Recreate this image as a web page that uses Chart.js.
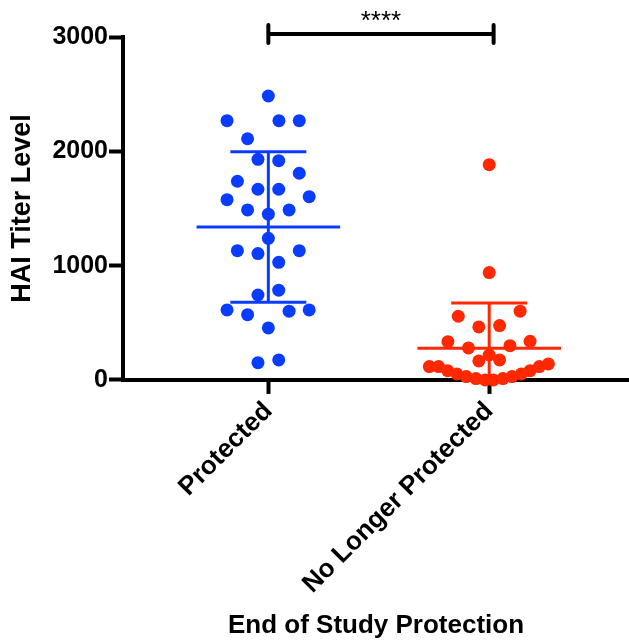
<!DOCTYPE html>
<html>
<head>
<meta charset="utf-8">
<script src="https://cdn.jsdelivr.net/npm/chart.js@4/dist/chart.umd.min.js"></script>
<style>
  html, body { margin: 0; padding: 0; background: #fff; }
  #wrap { width: 629px; height: 641px; position: relative; }
</style>
</head>
<body>
<div id="wrap"><canvas id="chart1"></canvas></div>
<script>
// groups on the x axis
var categories = ["Protected", "No Longer Protected"];

// HAI titer per subject
var protectedValues = [2484, 2268, 2268, 2268, 2110, 1930, 1918, 1808, 1738, 1668, 1668, 1577, 1603, 1487, 1487,
  1450, 1239, 1131, 1105, 1131, 1029, 743, 785, 612, 571, 601, 612, 455, 151, 175];
// horizontal spread of each dot within its column (category units)
var protectedSpread = [0, -0.187, 0.048, 0.140, -0.094, -0.047, 0.047, 0.140, -0.140, -0.047, 0.047, -0.187, 0.185, -0.094, 0.094,
  0, 0, -0.140, -0.047, 0.140, 0.047, -0.047, 0.047, -0.187, -0.094, 0.094, 0.185, 0, -0.047, 0.047];

var notProtectedValues = [1883, 939, 557, 601, 464, 475, 335, 280, 300, 338, 166, 175, 218,
  117, 117, 81, 52, 29, 12, 0, 0, 12, 29, 52, 81, 117, 140];
var notProtectedSpread = [0, 0, -0.140, 0.140, -0.047, 0.047, -0.187, -0.094, 0.094, 0.185, -0.047, 0.047, 0,
  -0.271, -0.229, -0.188, -0.146, -0.104, -0.060, -0.018, 0.019, 0.062, 0.103, 0.145, 0.185, 0.227, 0.268];

// mean and SD lines
var groupMeans = [1338, 276];
var groupSD = [658, 396];

var yTicks = [0, 1000, 2000, 3000];
var sigLabel = "****";

var blue = "#0a3cff";
var red = "#ff2800";
var font = "'Liberation Sans', Arial, sans-serif";

function toPoints(values, spread, pos) {
  return values.map(function (v, i) { return { x: pos + spread[i], y: v }; });
}

// mean +/- SD bars and the significance bracket
var extrasPlugin = {
  id: 'extras',
  afterDatasetsDraw: function (chart) {
    var ctx = chart.ctx, xs = chart.scales.x, ys = chart.scales.y;
    var area = chart.chartArea;
    var colors = [blue, red];
    ctx.save();
    for (var i = 0; i < groupMeans.length; i++) {
      var cx = xs.getPixelForValue(i + 1);
      var half = xs.getPixelForValue(i + 1 + 0.325) - cx;
      var cap = xs.getPixelForValue(i + 1 + 0.172) - cx;
      var ym = ys.getPixelForValue(groupMeans[i]);
      var yt = ys.getPixelForValue(groupMeans[i] + groupSD[i]);
      var yb = Math.min(ys.getPixelForValue(groupMeans[i] - groupSD[i]), area.bottom);
      ctx.strokeStyle = colors[i];
      ctx.lineWidth = 3;
      ctx.beginPath();
      ctx.moveTo(cx - half, ym); ctx.lineTo(cx + half, ym);
      ctx.moveTo(cx, yt); ctx.lineTo(cx, yb);
      ctx.moveTo(cx - cap, yt); ctx.lineTo(cx + cap, yt);
      if (yb < area.bottom) { ctx.moveTo(cx - cap, yb); ctx.lineTo(cx + cap, yb); }
      ctx.stroke();
    }
    // significance bracket
    var x1 = xs.getPixelForValue(1), x2 = xs.getPixelForValue(2.02);
    var yb2 = ys.getPixelForValue(3000) - 3;
    ctx.strokeStyle = "#000";
    ctx.lineWidth = 4;
    ctx.lineCap = "round";
    ctx.beginPath();
    ctx.moveTo(x1, yb2); ctx.lineTo(x2, yb2);
    ctx.moveTo(x1, yb2 - 9); ctx.lineTo(x1, yb2 + 9);
    ctx.moveTo(x2, yb2 - 9); ctx.lineTo(x2, yb2 + 9);
    ctx.stroke();
    ctx.fillStyle = "#000";
    ctx.font = "26px " + font;
    ctx.textAlign = "center";
    ctx.textBaseline = "middle";
    ctx.fillText(sigLabel, (x1 + x2) / 2, yb2 - 12);
    ctx.restore();
  }
};

var chartDots = document.getElementById("chart1").getContext('2d');
var myChart = new Chart(chartDots, {
  type: 'scatter',
  data: {
    datasets: [{
      label: categories[0],
      data: toPoints(protectedValues, protectedSpread, 1),
      backgroundColor: blue,
      borderWidth: 0,
      pointRadius: 6.5,
      clip: false
    }, {
      label: categories[1],
      data: toPoints(notProtectedValues, notProtectedSpread, 2),
      backgroundColor: red,
      borderWidth: 0,
      pointRadius: 6.5,
      clip: false
    }]
  },
  options: {
    responsive: true,
    maintainAspectRatio: false,
    animation: false,
    layout: { autoPadding: false, padding: { top: 37, left: 6, right: 0, bottom: 0 } },
    plugins: {
      legend: { display: false },
      tooltip: { enabled: false }
    },
    scales: {
      x: {
        type: 'linear',
        min: 0.342,
        max: 2.633,
        afterBuildTicks: function (scale) {
          scale.ticks = categories.map(function (c, i) { return { value: i + 1 }; });
        },
        afterFit: function (scale) {
          // let the axis run to the right edge like the original
          scale.paddingRight = 0;
          scale.paddingLeft = 0;
        },
        ticks: {
          minRotation: 45,
          maxRotation: 45,
          padding: 2,
          color: "#000",
          font: { family: font, size: 26, weight: 'bold' },
          callback: function (v) { return categories[Math.round(v) - 1]; }
        },
        grid: { drawOnChartArea: false, tickLength: 14, tickWidth: 4, color: "#000" },
        border: { display: true, width: 4, color: "#000" },
        title: {
          display: true,
          text: "End of Study Protection",
          color: "#000",
          font: { family: font, size: 26, weight: 'bold' },
          padding: { top: 8, bottom: 0 }
        }
      },
      y: {
        min: 0,
        max: 3000,
        afterBuildTicks: function (scale) {
          scale.ticks = yTicks.map(function (v) { return { value: v }; });
        },
        ticks: {
          padding: 1,
          color: "#000",
          font: { family: font, size: 25, weight: 'bold' },
          callback: function (v) { return String(v); }
        },
        grid: { drawOnChartArea: false, tickLength: 14, tickWidth: 4, color: "#000" },
        border: { display: true, width: 4, color: "#000" },
        title: {
          display: true,
          text: "HAI Titer Level",
          color: "#000",
          font: { family: font, size: 27, weight: 'bold' },
          padding: { top: 0, bottom: 13 }
        }
      }
    }
  },
  plugins: [extrasPlugin]
});
</script>
</body>
</html>
